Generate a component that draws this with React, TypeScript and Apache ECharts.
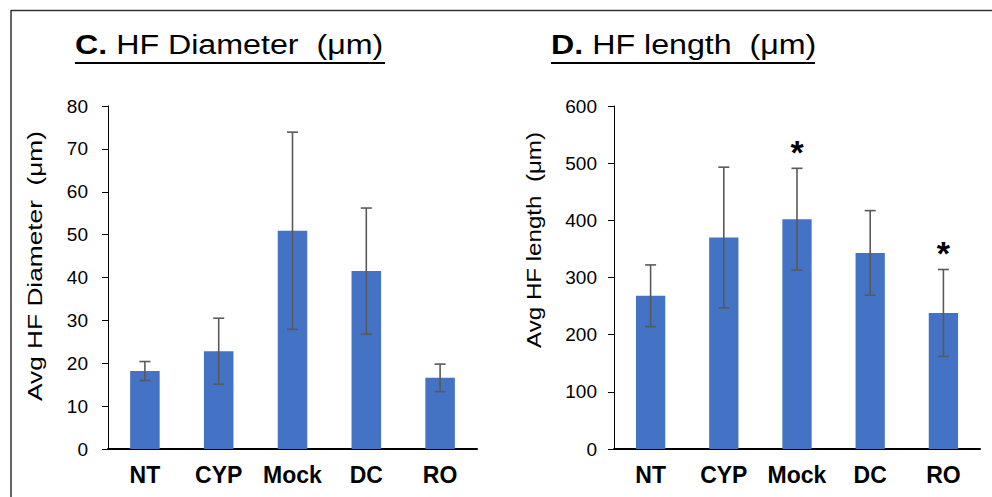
import React, { useEffect, useRef } from "react";
import * as echarts from "echarts";

const categories = ["NT", "CYP", "Mock", "DC", "RO"];
const diameterMeans = [18.2, 22.8, 50.9, 41.5, 16.6];
const diameterErrors = [2.2, 7.7, 23.0, 14.7, 3.2];
const lengthMeans = [268, 370, 402, 343, 238];
const lengthErrors = [54, 123, 89, 74, 76];
const lengthSignificant = [false, false, true, false, true];
const diameterAxis = { min: 0, max: 80, interval: 10 };
const lengthAxis = { min: 0, max: 600, interval: 100 };

const FONT = "'Liberation Sans', Arial, Helvetica, sans-serif";
const BAR = "#4472C4";
const ERR = "#595959";

function errorSeries(xi: number, means: number[], errs: number[]) {
  return {
    type: "custom",
    xAxisIndex: xi,
    yAxisIndex: xi,
    z: 5,
    data: means.map((m, i) => [i, m, errs[i]]),
    encode: { x: 0, y: 1 },
    renderItem: (params: any, api: any) => {
      const x = api.value(0);
      const m = api.value(1);
      const e = api.value(2);
      const hi = api.coord([x, m + e]);
      const lo = api.coord([x, m - e]);
      const h = 5.5;
      const st = { stroke: ERR, lineWidth: 1.6 };
      return {
        type: "group",
        children: [
          { type: "line", shape: { x1: hi[0], y1: hi[1], x2: lo[0], y2: lo[1] }, style: st },
          { type: "line", shape: { x1: hi[0] - h, y1: hi[1], x2: hi[0] + h, y2: hi[1] }, style: st },
          { type: "line", shape: { x1: lo[0] - h, y1: lo[1], x2: lo[0] + h, y2: lo[1] }, style: st },
        ],
      };
    },
  };
}

export default function App() {
  const ref = useRef<HTMLDivElement>(null);
  useEffect(() => {
    if (!ref.current) return;
    const chart = echarts.init(ref.current, null, { renderer: "svg" });
    const yAxisCommon = {
      type: "value",
      splitLine: { show: false },
      axisLine: { show: true, lineStyle: { color: "#000", width: 1 } },
      axisTick: { show: true, length: 6, lineStyle: { color: "#000" } },
      axisLabel: { fontFamily: FONT, fontSize: 19, color: "#000", margin: 20 },
    };
    const xAxisCommon = {
      type: "category",
      data: categories,
      axisLine: { show: true, lineStyle: { color: "#000", width: 2 } },
      axisTick: { show: false },
      axisLabel: { fontFamily: FONT, fontSize: 23, fontWeight: "bold", color: "#000", margin: 14, interval: 0 },
    };
    const titleText = (text: string, x: number) => ({
      type: "text",
      x,
      y: 44,
      scaleX: 1.15,
      style: {
        text,
        fontSize: 28,
        fontFamily: FONT,
        fill: "#000",
        align: "left",
        verticalAlign: "middle",
        rich: { b: { fontSize: 28, fontWeight: "bold", fontFamily: FONT, fill: "#000" } },
      },
    });
    const yName = (text: string, x: number, y: number, sx: number) => ({
      type: "text",
      x,
      y,
      rotation: Math.PI / 2,
      scaleX: sx,
      style: {
        text,
        fontSize: 21,
        fontFamily: FONT,
        fill: "#000",
        align: "center",
        verticalAlign: "middle",
      },
    });
    const option: any = {
      animation: false,
      backgroundColor: "#fff",
      grid: [
        { left: 108, top: 106, width: 369, height: 343 },
        { left: 614, top: 106, width: 366, height: 343 },
      ],
      xAxis: [
        { ...xAxisCommon, gridIndex: 0 },
        { ...xAxisCommon, gridIndex: 1 },
      ],
      yAxis: [
        { ...yAxisCommon, gridIndex: 0, ...diameterAxis },
        { ...yAxisCommon, gridIndex: 1, ...lengthAxis, axisLabel: { ...yAxisCommon.axisLabel, margin: 17 } },
      ],
      series: [
        { type: "bar", xAxisIndex: 0, yAxisIndex: 0, data: diameterMeans, barWidth: "40%", itemStyle: { color: BAR } },
        { type: "bar", xAxisIndex: 1, yAxisIndex: 1, data: lengthMeans, barWidth: "40%", itemStyle: { color: BAR } },
        errorSeries(0, diameterMeans, diameterErrors),
        errorSeries(1, lengthMeans, lengthErrors),
        {
          type: "custom",
          xAxisIndex: 1,
          yAxisIndex: 1,
          z: 6,
          data: lengthMeans.map((m, i) => [i, m + lengthErrors[i], lengthSignificant[i] ? 1 : 0]),
          encode: { x: 0, y: 1 },
          renderItem: (params: any, api: any) => {
            if (!api.value(2)) return null;
            const p = api.coord([api.value(0), api.value(1)]);
            return {
              type: "text",
              x: p[0],
              y: p[1] - 16,
              style: {
                text: "*",
                fontSize: 34,
                fontWeight: "bold",
                fontFamily: FONT,
                fill: "#000",
                align: "center",
                verticalAlign: "middle",
              },
            };
          },
        },
      ],
      graphic: [
        { type: "line", shape: { x1: 11, y1: 10.5, x2: 992, y2: 10.5 }, style: { stroke: "#333", lineWidth: 1.5 } },
        { type: "line", shape: { x1: 11, y1: 10, x2: 11, y2: 497 }, style: { stroke: "#333", lineWidth: 1.5 } },
        titleText("{b|C.} HF Diameter  (μm)", 75),
        { type: "line", shape: { x1: 75, y1: 63, x2: 385, y2: 63 }, style: { stroke: "#000", lineWidth: 2 } },
        titleText("{b|D.} HF length  (μm)", 551),
        { type: "line", shape: { x1: 551, y1: 63, x2: 815, y2: 63 }, style: { stroke: "#000", lineWidth: 2 } },
        yName("Avg HF Diameter  (μm)", 34, 266, 1.25),
        yName("Avg HF length  (μm)", 534, 240, 1.15),
      ],
    };
    chart.setOption(option);
    return () => chart.dispose();
  }, []);
  return (
    <div
      ref={ref}
      style={{ position: "absolute", left: 0, top: 0, width: 992, height: 497, background: "#fff" }}
    />
  );
}
